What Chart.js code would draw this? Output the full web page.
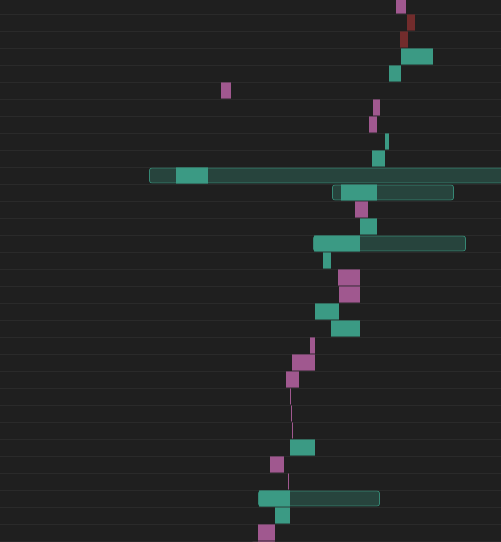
<!DOCTYPE html>
<html>
<head>
<meta charset="utf-8">
<script src="https://cdn.jsdelivr.net/npm/chart.js@4/dist/chart.umd.min.js"></script>
<style>
  html, body { margin: 0; padding: 0; background: #1f1f1f; overflow: hidden; }
  #wrap { position: absolute; left: 0; top: -3.5px; width: 501px; height: 561px; }
</style>
</head>
<body>
<div id="wrap"><canvas id="chart"></canvas></div>
<script>
// one row per step, top to bottom
const rows = ['s1','s2','s3','s4','s5','s6','s7','s8','s9','s10','s11','s12','s13','s14','s15','s16','s17',
              's18','s19','s20','s21','s22','s23','s24','s25','s26','s27','s28','s29','s30','s31','s32','s33'];

// rising steps [from, to]
const upSteps = [null, null, null, [401,433], [389,401], null, null, null, [385,389], [372,385],
                 [176,208], [341,377], null, [360,377], [314,360], [323,331], null, null, [315,339], [331,360],
                 null, null, null, null, null, null, [290,315], null, null, [259,290], [275,290], null, null];

// falling steps [from, to]
const downSteps = [[396,406], null, null, null, null, [221,231], [373,380], [369,377], null, null,
                   null, null, [355,368], null, null, null, [338,360], [339,360], null, null,
                   [310,315], [292,315], [286,299], [290,291], [291,292], [292,293], null, [270,284], [288,289], null,
                   null, [258,275], [258,275]];

// flagged steps
const flagSteps = [null, [407,415], [400,408]];

// high/low span behind some steps
const upRange = [null, null, null, null, null, null, null, null, null, null,
                 [149,560], [332,454], null, null, [313,466], null, null, null, null, null,
                 null, null, null, null, null, null, null, null, null, [258,380], null, null, null];
const downRange = [null, null, null, null, null, null, null, null, null, null,
                   null, null, null, null, null, null, null, null, null, null,
                   null, null, null, null, null, null, null, null, null, null, null, null, [251,275]];

const teal = '#3b9a84';
const pink = '#a0588f';
const darkRed = '#722c2c';

new Chart(document.getElementById('chart'), {
    type: 'bar',
    data: {
        labels: rows,
        datasets: [
            { label: 'Up', data: upSteps, backgroundColor: teal, borderWidth: 0 },
            { label: 'Down', data: downSteps, backgroundColor: pink, borderWidth: 0 },
            { label: 'Flag', data: flagSteps, backgroundColor: darkRed, borderWidth: 0 },
            {
                label: 'Up range', data: upRange,
                backgroundColor: 'rgba(59,154,132,0.3)', borderColor: 'rgba(59,154,132,0.85)',
                borderWidth: 1, borderRadius: 3, borderSkipped: false
            },
            {
                label: 'Down range', data: downRange,
                backgroundColor: 'rgba(160,120,140,0.45)', borderColor: 'rgba(160,120,140,0.7)',
                borderWidth: 1, borderRadius: 2, borderSkipped: false
            }
        ]
    },
    options: {
        indexAxis: 'y',
        responsive: true,
        maintainAspectRatio: false,
        devicePixelRatio: 1,
        animation: false,
        layout: { padding: 0 },
        datasets: {
            bar: { grouped: false, categoryPercentage: 1, barPercentage: 0.95 }
        },
        scales: {
            x: { type: 'linear', min: 0, max: 501, display: false },
            y: {
                ticks: { display: false },
                border: { display: false },
                grid: { color: '#2a2a2a', drawTicks: false, lineWidth: 1 },
                afterFit: s => { s.width = 0; }
            }
        },
        plugins: {
            legend: { display: false },
            tooltip: { enabled: false }
        }
    }
});
</script>
</body>
</html>
